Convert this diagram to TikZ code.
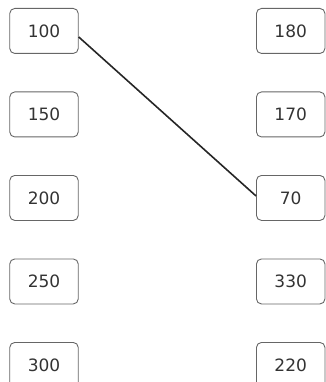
\documentclass[tikz,border=0pt]{standalone}
\usepackage{fontspec}
\setmainfont{DejaVu Sans}
\begin{document}
\begin{tikzpicture}[x=1pt,y=-1pt,
  numbox/.style={draw=black!60, line width=0.9pt, rounded corners=5pt, minimum width=68.5pt, minimum height=45pt, inner sep=0pt, text=black!80, font=\fontsize{17}{20}\selectfont, anchor=north west},
  link/.style={draw=black!85, line width=1.6pt}]
\useasboundingbox (0,0) rectangle (325,382);
\node[numbox] (l1) at (9.3,8) {100};
\node[numbox] (l2) at (9.3,91.5) {150};
\node[numbox] (l3) at (9.3,175) {200};
\node[numbox] (l4) at (9.3,258.5) {250};
\node[numbox] (l5) at (9.3,342) {300};
\node[numbox] (r1) at (256,8) {180};
\node[numbox] (r2) at (256,91.5) {170};
\node[numbox] (r3) at (256,175) {70};
\node[numbox] (r4) at (256,258.5) {330};
\node[numbox] (r5) at (256,342) {220};
\draw[link] ([yshift=-6pt]l1.east) -- ([yshift=2pt]r3.west);
\end{tikzpicture}
\end{document}
